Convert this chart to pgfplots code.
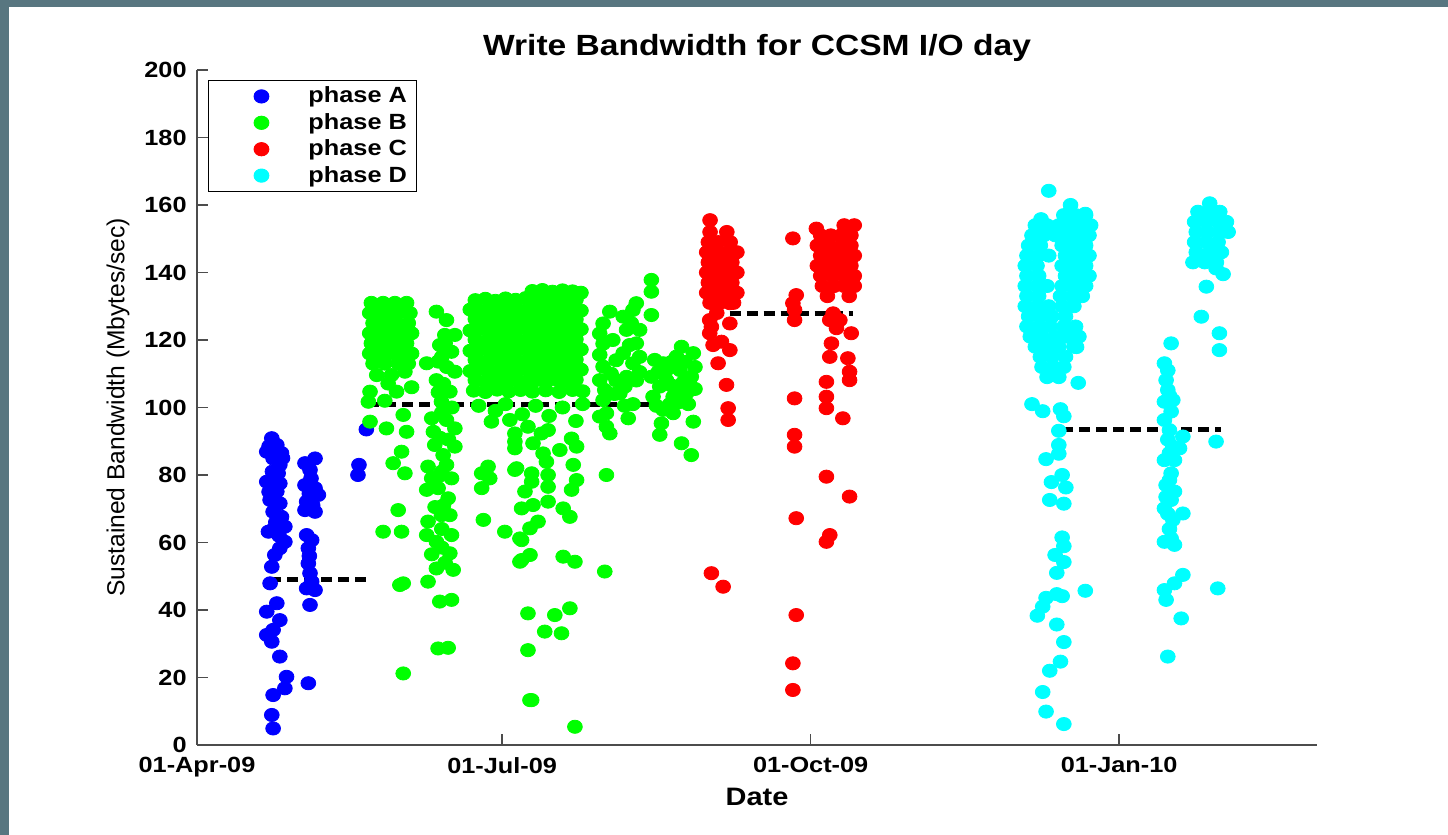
\documentclass[border=0pt]{standalone}
\usepackage{fontspec}
\setmainfont{Liberation Sans}[FakeStretch=1.15]
\newfontfamily\ylabfont{Liberation Sans}
\usepackage{pgfplots}
\pgfplotsset{compat=1.18}
\definecolor{slide}{HTML}{587680}
\definecolor{pA}{RGB}{0,0,255}
\definecolor{pB}{RGB}{0,255,0}
\definecolor{pC}{RGB}{255,0,0}
\definecolor{pD}{RGB}{0,255,255}

\begin{document}
\begin{tikzpicture}
% slide background
\fill[slide] (0,0) rectangle (724pt,417.5pt);
\fill[white] (4.5pt,0) rectangle (724pt,414pt);

\begin{axis}[
    at={(98.5pt,45pt)}, anchor=south west,
    scale only axis, width=560pt, height=337.5pt,
    xmin=0, xmax=334, ymin=0, ymax=200,
    axis lines=left,
    axis line style={-, black!70, line width=0.7pt},
    tick style={black!70, line width=0.7pt},
    tick align=inside, major tick length=5.5pt,
    xtick={0,91,183,275},
    xticklabels={01-Apr-09,01-Jul-09,01-Oct-09,01-Jan-10},
    ytick={0,20,...,200},
    /pgf/number format/assume math mode=true,
    ticklabel style={font=\fontsize{11}{13}\selectfont\bfseries},
    yticklabel style={anchor=east, inner sep=0pt, xshift=-5pt},
    xticklabel style={anchor=north, inner sep=0pt, yshift=-6pt},
    title={Write Bandwidth for CCSM I/O day},
    title style={at={(axis description cs:0.5,1.003)}, anchor=base, yshift=0pt, font=\fontsize{14.6}{17}\selectfont\bfseries},
    xlabel={Date},
    xlabel style={at={(axis description cs:0.5,-0.0889)}, anchor=base, font=\fontsize{12.6}{15}\selectfont\bfseries},
    ylabel={Sustained Bandwidth (Mbytes/sec)},
    ylabel style={at={(axis description cs:-0.0705,0.5)}, anchor=center, font=\ylabfont\fontsize{12.3}{14}\selectfont},
    legend style={at={(axis description cs:0.0098,0.985)}, anchor=north west,
        draw=black, line width=0.5pt, fill=white, inner xsep=5pt, inner ysep=1.3pt,
        row sep=0pt, column sep=0pt, nodes={inner sep=0pt},
        font=\fontsize{11}{13}\selectfont\bfseries},
    legend cell align=left,
    legend image code/.code={\path[draw=none, fill=none] (-21.5pt,-6.6pt) (23.5pt,6.6pt);
        \draw[#1] plot coordinates {(0pt,0pt)};},
    every axis plot/.append style={only marks, mark=*, mark size=3.3pt, mark options={xscale=1.12}},
]

% phase A
\addplot[pA] coordinates {
 (22.3,90.9) (23.8,88.9) (20.8,86.9) (22.7,84.9) (24.7,83.0) (24.2,80.5) (20.8,78.0) (24.7,77.5)
 (23.8,75.1) (21.8,72.6) (24.7,71.6) (22.7,69.1) (25.2,67.6) (26.2,64.7) (21.3,63.2) (26.2,60.2)
 (24.7,58.3) (23.2,56.3) (22.3,52.8) (21.8,47.9) (23.8,42.0) (20.8,39.5) (24.7,37.0) (22.7,34.1)
 (20.8,32.6) (22.3,30.6) (24.7,26.2) (26.7,20.2) (26.2,16.8) (22.7,14.8) (22.3,8.9) (22.7,4.9)
 (21.5,88.5) (25.2,86.5) (22.5,81) (21.5,75) (23.5,66) (22.8,64) (24.5,62) (25.5,85) (23,78)
 (35.2,84.9) (32.2,83.5) (33.7,81.5) (32.2,77.0) (35.2,76.1) (36.2,74.1) (32.7,72.1) (35.2,69.1)
 (32.2,69.6) (32.7,62.2) (34.2,60.7) (33.2,58.3) (33.2,53.8) (33.7,50.9) (34.2,48.4) (32.7,46.4)
 (35.2,45.9) (33.7,41.5) (33.2,18.3) (34,79) (33.5,74.5) (34.5,71) (33.5,56)
 (48.3,83.0) (48.0,80.0) (50.5,93.5)
};
\addlegendentry{phase A}

% phase B
\addplot[pB] coordinates {
 (52,131) (55.5,131) (59,131) (62.5,131) (51.5,128) (54,128) (57,128) (60,128) (63.5,128)
 (52.5,125) (56,125) (59.5,125) (63,125) (51.5,122) (54.5,122) (58,122) (61,122) (64,122)
 (52,119) (55.5,119) (59,119) (62.5,119) (51.5,116) (54.5,116) (57.5,116) (61,116) (64,116)
 (52.5,113) (56,113) (60,113) (63,113)
 (53.6,109.6) (58,109.6) (62,110.6) (51.6,104.7) (57,107.1) (59.5,104.7) (51.1,101.7) (61.5,97.8)
 (56,102) (64,106)
 (51.6,95.8) (56.5,93.8) (62.5,92.8) (61,86.9) (58.5,83.5) (62,80.5) (60,69.6) (55.5,63.2)
 (61,63.2) (61.5,47.9) (60.5,47.4) (61.5,21.2)
 (71.4,128.4) (74.4,125.9) (73.9,121.5) (76.9,121.5) (72.4,118.5) (75.9,116.5) (68.5,113.1)
 (71.9,113.6) (76.9,110.6) (71.4,108.1) (75.4,104.7) (72.9,101.7) (70,96.8) (74.4,96.3)
 (76.9,93.8) (70.5,92.8) (70.9,88.9) (76.9,88.4) (73.4,85.9) (68.9,82.5) (74.4,83.0) (71.9,79.5)
 (75.9,79.0) (68.5,75.6) (71.9,76.1) (74.9,73.1) (72.9,68.1) (68.9,66.2) (75.4,68.1) (68.5,62.2)
 (71.4,60.2) (75.9,62.2) (75.4,56.8) (71.4,52.3) (76.4,51.9) (68.9,48.4) (72.4,42.5) (75.9,43.0)
 (71.9,28.6) (74.9,28.8)
 (74,119) (73,115) (74.5,112) (73.5,107) (72,104.5) (76,100) (73,98.5) (72.5,91) (75,90.5)
 (73,81) (70,79) (73.5,71) (71,70.5) (73,64) (73,58.5) (74,54) (70,56.5)
 (100,134.5) (103,134.8) (106,134.3) (109,134.7) (112,134.4) (114.5,134)
 (83,131.8) (86,132.2) (89,131.6) (92,132.3) (95,131.9) (98,132.4) (101,131.7) (104,132.2)
 (107,131.8) (110,132.3) (113,131.9)
 (81.5,129) (84.5,128.6) (87.5,129.3) (90.5,128.8) (93.5,129.2) (96.5,128.7) (99.5,129.1)
 (102.5,128.6) (105.5,129.3) (108.5,128.8) (111.5,129.2) (114.5,128.7)
 (83,126.2) (86,125.7) (89,126.3) (92,125.8) (95,126.1) (98,125.6) (101,126.3) (104,125.9)
 (107,126.2) (110,125.7) (113,126.1)
 (81.5,122.8) (84.5,123.3) (87.5,122.7) (90.5,123.2) (93.5,122.9) (96.5,123.4) (99.5,122.8)
 (102.5,123.1) (105.5,122.7) (108.5,123.3) (111.5,122.8) (114.5,123.2)
 (83,120.1) (86,119.6) (89,120.3) (92,119.8) (95,120.2) (98,119.7) (101,120.1) (104,119.6)
 (107,120.3) (110,119.8) (113,120.2)
 (81.5,116.8) (84.5,117.3) (87.5,116.7) (90.5,117.2) (93.5,116.9) (96.5,117.4) (99.5,116.8)
 (102.5,117.1) (105.5,116.7) (108.5,117.3) (111.5,116.8) (114.5,117.2)
 (83,114.1) (86,113.6) (89,114.3) (92,113.8) (95,114.2) (98,113.7) (101,114.1) (104,113.6)
 (107,114.3) (110,113.8) (113,114.2)
 (81.5,110.8) (84.5,111.3) (87.5,110.7) (90.5,111.2) (93.5,110.9) (96.5,111.4) (99.5,110.8)
 (102.5,111.1) (105.5,110.7) (108.5,111.3) (111.5,110.8) (114.5,111.2)
 (83,108.1) (86,107.6) (89,108.3) (92,107.8) (95,108.2) (98,107.7) (101,108.1) (104,107.6)
 (107,108.3) (110,107.8) (113,108.2)
 (82.5,105) (86,104.6) (89.5,105.3) (93,104.8) (96.5,105.2) (100,104.7) (104,105.1) (108,104.6)
 (112,105.2) (115,104.8)
 (84,100.5) (89,99) (92,101) (97,98) (101,100.5) (105,97.5) (109,100) (113,96) (115,101)
 (87.8,95.8) (86.8,82.5) (84.9,80.5) (87.3,79.0) (84.9,76.1) (85.4,66.7) (91.8,63.2) (94.8,92.3)
 (94.8,87.9) (95.3,82.0) (97.8,75.1) (96.8,70.1) (96.3,61.2) (96.3,54.3) (98.7,39.0) (98.7,28.1)
 (99.3,13.3)
 (93.3,96.3) (94.8,89.9) (100.2,89.4) (102.7,92.3) (104.7,93.3) (98.7,94.3) (103.2,86.4)
 (94.8,81.5) (99.8,80.5) (104.7,80.0) (99.8,78.0) (104.2,83.9) (111.7,90.8) (113.2,88.4)
 (108.2,87.4) (112.2,83.0) (104.7,76.5) (113.2,78.5) (111.7,75.6) (100.2,71.1) (104.7,72.1)
 (109.2,70.1) (111.2,67.6) (101.7,66.2) (99.3,64.2) (96.8,60.7) (96.8,54.8) (99.3,56.3)
 (109.2,55.8) (112.7,54.3) (122.1,80.0) (121.6,51.4) (106.7,38.5) (111.2,40.5) (103.7,33.6)
 (108.7,33.1) (99.8,13.3) (112.7,5.4)
 (123.1,128.4) (121.1,124.9) (120.1,121.9) (121.1,118.9) (120.1,115.6) (121.1,112.1) (120.1,108.1)
 (121.6,105.2) (121.1,102.2) (122.1,98.3) (122.1,94.3) (123.1,92.3) (120.1,97.3) (127.1,126.9)
 (130.0,128.9) (131.0,130.9) (128.1,123.0) (131.0,119.0) (127.1,116.1) (130.0,113.1) (128.1,109.1)
 (127.6,106.2) (126.1,104.2) (128.6,96.8) (135.5,137.8) (135.5,134.3) (135.5,127.4)
 (124,120) (125,114) (123.5,110) (124.5,104) (129.5,125) (132,123) (129,118.5) (132,115)
 (131,108) (130,101) (127.5,100.5) (125,108) (132,110.5)
 (136.5,114.1) (139,113.1) (135.5,109.1) (138,106.2) (136,103.2) (139,99.3) (138.5,95.3) (138,91.9)
 (144.5,118.0) (143,115.1) (148,116.1) (144,111.1) (147.4,109.1) (143,106.2) (146,104.2) (142,98.3)
 (148,95.8) (144.5,89.4) (147.4,85.9) (140,108.1) (140,111.1) (142,103.2)
 (137.5,110.5) (141.5,113.5) (145.5,113.5) (146.5,101) (141,101) (137,100.5) (145,107.5)
 (148.5,105.5) (148.5,112) (141.5,106.5) (143.5,101.5)
};
\addlegendentry{phase B}

% phase C
\addplot[pC] coordinates {
 (153,155.5) (153,152) (158,152) (152.5,149) (155.5,149) (159,149)
 (152,146) (155,146) (158.5,146) (161,146) (152.5,143) (156,143) (159.5,143)
 (152,140) (155,140) (158.5,140) (161,140) (152.5,137) (156,137) (159.5,137)
 (152,134) (155,134) (158.5,134) (161,134) (153,131) (156,131) (160,131)
 (153.4,131.9) (158.9,130.9) (152.9,125.9) (158.9,124.9) (152.9,122) (153.9,118.5) (156.4,119.5)
 (158.9,117) (155.4,113.1) (157.9,106.7) (158.4,99.8) (158.4,96.3) (153.4,50.9) (156.9,46.9)
 (153.4,123.9) (155,128)
 (177.7,150.1) (178.7,133.3) (177.7,130.9) (178.2,128.9) (178.2,125.9) (178.2,102.7) (178.2,91.9)
 (178.2,88.4) (178.7,67.2) (178.7,38.5) (177.7,24.2) (177.7,16.3) (184.7,153.0)
 (193,154) (196,154) (186,151) (189,151) (192,151) (195,151)
 (185,148) (188.5,148) (192,148) (195,148) (186,145) (189.5,145) (193,145) (196,145)
 (185,142) (188.5,142) (192,142) (195,142) (186,139) (189.5,139) (193,139) (196,139)
 (186.5,136) (190,136) (193,136) (196,136) (188,133) (194.5,133)
 (189.7,127.9) (188.7,125.9) (191.7,125.9) (190.7,123.5) (195.1,122) (189.2,119) (188.7,115)
 (194.1,114.6) (194.6,110.6) (194.6,108.1) (187.7,107.6) (187.7,103.2) (187.7,99.8) (192.6,96.8)
 (187.7,79.5) (194.6,73.6) (188.7,62.2) (187.7,60.2)
};
\addlegendentry{phase C}

% phase D
\addplot[pD] coordinates {
 (260.5,160) (258.5,157) (262,157) (265,157)
 (250,154) (253.5,154) (257,154) (260.5,154) (264,154) (266.5,154)
 (249,151) (252.5,151) (256,151) (259.5,151) (263,151) (266,151)
 (248,148) (251.5,148) (258,148) (261.5,148) (265,148)
 (247.5,145) (251,145) (254,145) (259,145) (262.5,145) (266,145)
 (247,142) (250.5,142) (258,142) (261.5,142) (265,142)
 (247.5,139) (251,139) (259,139) (262.5,139) (266,139)
 (247,136) (250.5,136) (253.5,136) (258,136) (261.5,136) (265,136)
 (247.5,133) (251,133) (257.5,133) (261,133) (264,133)
 (247,130) (250.5,130) (254,130) (258,130) (261.5,130)
 (248,127) (251.5,127) (255,127) (259,127)
 (247.5,124) (251,124) (254.5,124) (258.5,124) (262,124)
 (248.5,121) (252,121) (256,121) (259.5,121) (263,121)
 (250,118) (253.5,118) (257,118) (261.5,118)
 (251.5,115) (255,115) (259,115) (252,112) (255.5,112) (258.5,112) (253.5,109) (257,109)
 (254.0,164.2) (251.7,155.8) (264.9,157.4) (262.3,117.9) (262.8,107.3)
 (249.0,101.0) (252.2,98.9) (257.5,99.5) (258.5,97.4) (257.0,93.1) (257.0,88.9) (253.2,84.7)
 (257.0,86.3) (258.0,80.0) (254.8,77.9) (259.1,76.3) (254.3,72.6) (258.5,71.5) (258.0,61.5)
 (258.5,58.9) (255.9,56.3) (258.5,54.2) (256.4,51.0) (264.9,45.7) (253.2,43.6) (256.4,44.7)
 (258.0,44.1) (250.6,38.3) (252.2,41.0) (256.4,35.7) (258.5,30.5) (257.5,24.7) (254.3,22.0)
 (252.2,15.7) (253.2,9.9) (258.5,6.2)
 (302,160.5) (298.5,158) (302,158) (305,158) (297.5,155) (301,155) (304.5,155) (307,155)
 (298,152) (301.5,152) (305,152) (307.5,152) (297.5,149) (301,149) (304.5,149)
 (298,146) (302,146) (305.5,146) (297,143) (300.5,143) (304,143)
 (303.9,141.2) (298.5,144.2) (301,135.8) (299.5,126.9) (304.9,122) (304.9,117) (303.9,89.9)
 (304.4,46.4) (306,139.5)
 (290.5,119.0) (288.5,113.1) (289,108.1) (289.5,105.2) (288.5,101.7) (291,102.2) (290.5,98.8)
 (288.5,96.3) (290,93.3) (294,91.4) (291,88.4) (293,87.9) (288.5,84.4) (291.5,84.4) (290.5,80.5)
 (289,77.0) (291.5,75.1) (290.5,72.6) (288.5,70.1) (294,68.6) (291,66.7) (290.5,61.2) (288.5,60.2)
 (291.5,59.3) (294,50.4) (291.5,47.9) (288.5,45.9) (289,43.0) (293.5,37.5) (289.5,26.2)
 (289.5,111) (290,103.5) (289.5,90.5) (290,86.5) (290,78.5) (289,73.5) (289.5,68.5) (290,64)
};
\addlegendentry{phase D}

% phase means
\addplot[black, no marks, sharp plot, line width=2.5pt, dash pattern=on 5.5pt off 3pt, forget plot]
  coordinates {(21.8,49) (50.7,49)};
\addplot[black, no marks, sharp plot, line width=2.5pt, dash pattern=on 5.5pt off 3pt, forget plot]
  coordinates {(51,101) (148.4,101)};
\addplot[black, no marks, sharp plot, line width=2.5pt, dash pattern=on 5.5pt off 3pt, forget plot]
  coordinates {(153.8,127.8) (195.5,127.8)};
\addplot[black, no marks, sharp plot, line width=2.5pt, dash pattern=on 5.5pt off 3pt, forget plot]
  coordinates {(258.1,93.4) (305.5,93.4)};
\end{axis}
\end{tikzpicture}
\end{document}
